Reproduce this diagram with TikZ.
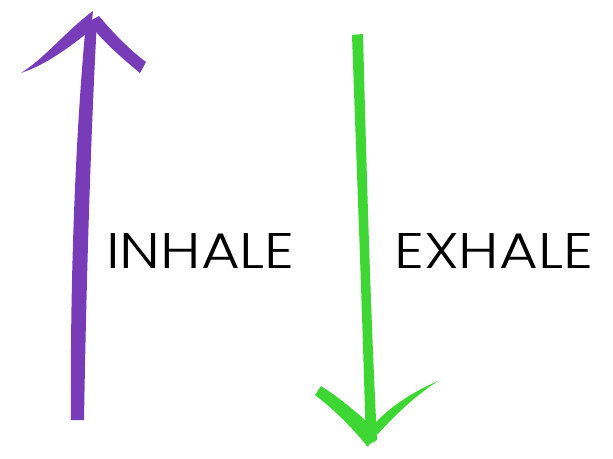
\documentclass[tikz,border=0pt]{standalone}
\usepackage{fontspec}
\newfontfamily\lbl{Poppins}[UprightFont={* Light},FakeStretch=1.19]
\definecolor{inpurple}{RGB}{120,60,185}
\definecolor{exgreen}{RGB}{62,214,50}
\begin{document}
\begin{tikzpicture}[x=1pt,y=-1pt,
  word/.style={anchor=base west,inner sep=0pt,font=\lbl\fontsize{50}{50}\selectfont}]
\useasboundingbox (0,0) rectangle (613,458);
% purple arrow (up)
\fill[inpurple] (71,420) .. controls (70,300) and (74,150) .. (86,22) -- (97,20) .. controls (90,150) and (86,300) .. (84,420) -- cycle;
\fill[inpurple] (93,11) .. controls (65,32) and (45,58) .. (21,73) .. controls (48,64) and (72,45) .. (91,30) -- cycle;
\fill[inpurple] (88,22) -- (99,16) .. controls (115,35) and (130,50) .. (146,62) -- (140,73) .. controls (122,58) and (103,42) .. cycle;
% green arrow (down)
\fill[exgreen] (352,35) -- (363,34) .. controls (366,150) and (370,300) .. (377,440) -- (366,446) .. controls (362,300) and (356,150) .. cycle;
\fill[exgreen] (321,386) .. controls (340,398) and (360,415) .. (376,430) -- (368,447) .. controls (350,425) and (332,408) .. (315,395) -- cycle;
\fill[exgreen] (438,381) .. controls (410,393) and (385,410) .. (367,432) -- (378,434) .. controls (395,415) and (415,396) .. cycle;
\node[word] (inh) at (106,268) {INHALE};
\node[word] (exh) at (394,268) {EXHALE};
\end{tikzpicture}
\end{document}
